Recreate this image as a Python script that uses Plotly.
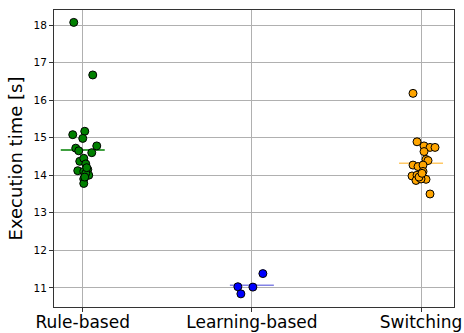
import numpy as np
import plotly.graph_objects as go

categories = ["Rule-based", "Learning-based", "Switching"]

rule_times = [18.07, 16.67, 15.08, 15.17, 14.98, 14.72, 14.65, 14.78, 14.60, 14.37,
              14.45, 14.30, 14.12, 14.15, 14.10, 14.00, 13.90, 13.78, 14.05, 14.20, 13.95]
rule_jitter = [-9, 10, -10, 2, 0, -7, -4, 14, 9, -3, 1, 3, -5, 5, 1, 6, 1, 1, 3, 4, 2]

learning_times = [11.03, 10.84, 11.02, 11.38]
learning_jitter = [-14, -11, 1, 11]

switching_times = [16.18, 14.89, 14.78, 14.74, 14.74, 14.63, 14.42, 14.39, 14.27, 14.23,
                   14.27, 14.10, 13.98, 14.00, 13.94, 13.86, 13.89, 13.50, 13.90, 13.95, 14.05]
switching_jitter = [-8, -4, 3, 9, 14, 3, 5, 7, -8, -3, 2, 2, -9, -4, -1, -5, 5, 9, 0, -2, 1]

point_colors = ["green", "blue", "orange"]
line_colors = ["green", "rgba(90,90,220,0.75)", "rgba(255,165,0,0.6)"]

groups = [(rule_times, rule_jitter), (learning_times, learning_jitter),
          (switching_times, switching_jitter)]

JITTER_SCALE = 1 / 169.0  # jitter values are in pixels of category spacing
HALF_WIDTH = 0.13

fig = go.Figure()

# mean lines (drawn beneath the points)
for i, (times, _) in enumerate(groups):
    m = float(np.mean(times))
    fig.add_trace(go.Scatter(
        x=[i - HALF_WIDTH, i + HALF_WIDTH], y=[m, m], mode="lines",
        line=dict(color=line_colors[i], width=1.5), showlegend=False, hoverinfo="skip"))

for i, (times, jit) in enumerate(groups):
    xs = [i + j * JITTER_SCALE for j in jit]
    fig.add_trace(go.Scatter(
        x=xs, y=times, mode="markers",
        marker=dict(color=point_colors[i], size=8, line=dict(color="black", width=1)),
        showlegend=False))

axis_common = dict(showline=True, linecolor="#333333", linewidth=1, mirror=True,
                   showgrid=True, gridcolor="#b0b0b0", gridwidth=1,
                   ticks="outside", ticklen=4, tickcolor="#333333", zeroline=False,
                   automargin=False)

fig.update_xaxes(range=[-0.17, 2.195], tickvals=[0, 1, 2], ticktext=categories,
                 tickfont=dict(size=17, color="black"), ticklabelstandoff=-4,
                 **axis_common)
fig.update_yaxes(range=[10.49, 18.40], tickvals=list(range(11, 19)),
                 tickfont=dict(size=10.5, color="black"),
                 title=dict(text="Execution time [s]", font=dict(size=18, color="black"), standoff=6),
                 **axis_common)

fig.update_layout(width=464, height=333, margin=dict(l=54, r=10, t=10, b=26),
                  plot_bgcolor="white", paper_bgcolor="white",
                  font=dict(family="DejaVu Sans"))

fig.write_html("out.html")
